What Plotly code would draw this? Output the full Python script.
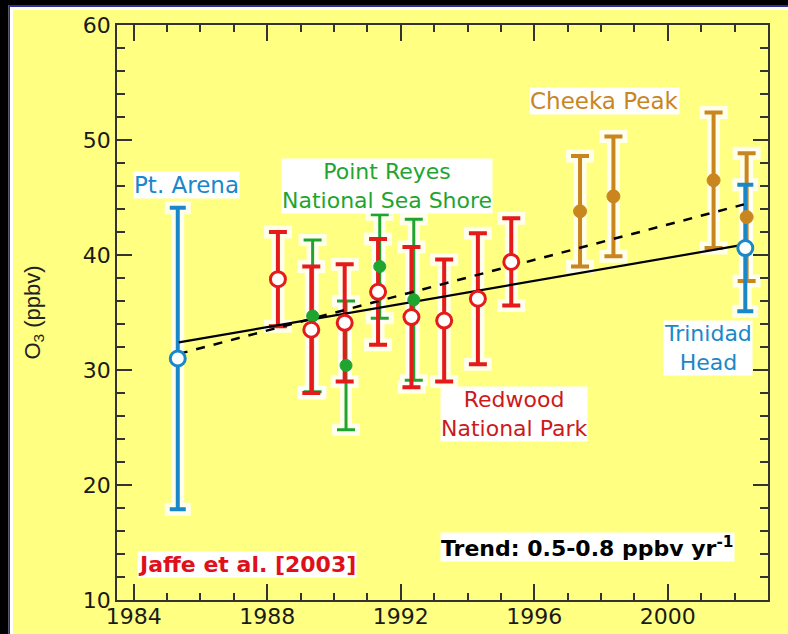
import plotly.graph_objects as go

# ---------------- data ----------------
pt_arena_year = [1985.32]
pt_arena_mean = [31.0]
pt_arena_err = [13.1]

trinidad_year = [2002.32]
trinidad_mean = [40.6]
trinidad_err = [5.5]

redwood_year = [1988.32, 1989.32, 1990.32, 1991.32, 1992.32, 1993.30, 1994.31, 1995.31]
redwood_mean = [37.9, 33.5, 34.1, 36.8, 34.6, 34.3, 36.2, 39.4]
redwood_err = [4.1, 5.5, 5.1, 4.6, 6.1, 5.3, 5.7, 3.8]

reyes_year = [1989.36, 1990.36, 1991.37, 1992.39]
reyes_mean = [34.7, 30.4, 39.0, 36.1]
reyes_err = [6.6, 5.6, 4.5, 7.0]

cheeka_year = [1997.37, 1998.37, 2001.37, 2002.36]
cheeka_mean = [43.8, 45.1, 46.5, 43.3]
cheeka_err = [4.8, 5.2, 5.9, 5.55]

trend_year = [1985.35, 2002.28]
trend_solid = [32.4, 40.9]
trend_dashed = [31.4, 44.4]

x_ticks = [1984, 1988, 1992, 1996, 2000]
y_ticks = [10, 20, 30, 40, 50, 60]

# ---------------- styles ----------------
YELLOW = "#FFFF82"
BLUE = "#1A88C8"
GREEN = "#1FA52F"
RED = "#E51A1A"
ORANGE = "#C9861F"
HALO = "rgba(255,255,255,0.85)"
FONT = "DejaVu Sans"

fig = go.Figure()


def err_trace(x, y, e, color, thick, capw):
    return go.Scatter(x=x, y=y, mode="markers", marker=dict(size=1, opacity=0),
                      error_y=dict(type="data", array=e, visible=True, color=color,
                                   thickness=thick, width=capw),
                      hoverinfo="skip", showlegend=False)


def mark_trace(x, y, color, size, fill, lw):
    return go.Scatter(x=x, y=y, mode="markers",
                      marker=dict(size=size, color=fill, symbol="circle",
                                  line=dict(color=color, width=lw)),
                      showlegend=False)


groups = [
    (reyes_year, reyes_mean, reyes_err, GREEN, 3, 9),
    (redwood_year, redwood_mean, redwood_err, RED, 4, 9),
    (cheeka_year, cheeka_mean, cheeka_err, ORANGE, 4, 9),
    (pt_arena_year, pt_arena_mean, pt_arena_err, BLUE, 4, 8),
    (trinidad_year, trinidad_mean, trinidad_err, BLUE, 4, 8),
]

# white halos
for x, y, e, c, t, w in groups:
    fig.add_trace(err_trace(x, y, e, HALO, t + 9, w + 5))
for x, y, e, c, t, w in groups:
    fig.add_trace(err_trace(x, y, e, c, t, w))

# trend lines
fig.add_trace(go.Scatter(x=trend_year, y=trend_dashed, mode="lines",
                         line=dict(color="black", width=2.5, dash="dash"),
                         showlegend=False))
fig.add_trace(go.Scatter(x=trend_year, y=trend_solid, mode="lines",
                         line=dict(color="black", width=2.2),
                         showlegend=False))

# markers
fig.add_trace(mark_trace(reyes_year, reyes_mean, GREEN, 12, GREEN, 1))
fig.add_trace(mark_trace(redwood_year, redwood_mean, RED, 15, "white", 3))
fig.add_trace(mark_trace(cheeka_year, cheeka_mean, ORANGE, 13, ORANGE, 1))
fig.add_trace(mark_trace(pt_arena_year, pt_arena_mean, BLUE, 15, "white", 3))
fig.add_trace(mark_trace(trinidad_year, trinidad_mean, BLUE, 15, "white", 3))


# ---------------- annotations ----------------
def label(text, x, y, color, size=22, bold=False):
    fig.add_annotation(x=x, y=y, xref="x", yref="y", text=f"<b>{text}</b>" if bold else text,
                       showarrow=False, xanchor="center", yanchor="middle", align="center",
                       font=dict(family=FONT, size=size, color=color),
                       bgcolor="white", borderpad=0)


label("Pt. Arena", 1985.59, 46.1, BLUE, size=23)
label("Point Reyes<br>National Sea Shore", 1991.6, 46.0, GREEN)
label("Cheeka Peak", 1998.11, 53.4, ORANGE, size=23)
label("Trinidad<br>Head", 2001.2, 31.9, BLUE)
label("Redwood<br>National Park", 1995.4, 26.2, "#CC1A1A")
label("Jaffe et al. [2003]", 1987.4, 13.1, "#E0101A", size=22, bold=True)
label("Trend: 0.5-0.8 ppbv yr<sup>-1</sup>", 1997.6, 14.6, "black", size=22, bold=True)

fig.add_annotation(xref="paper", yref="paper", x=-0.129, y=0.5, text="O<sub>3</sub> (ppbv)",
                   showarrow=False, textangle=-90, xanchor="center", yanchor="middle",
                   font=dict(family="Liberation Sans", size=22, color="#222222"))

# ---------------- frame (slide border) ----------------
L, R, T, B = 117, 20, 25, 34
W, H = 788, 634
pw, ph = W - L - R, H - T - B


def px(x):
    return (x - L) / pw


def py(y):
    return (H - B - y) / ph


fig.add_shape(type="rect", xref="paper", yref="paper", x0=px(-5), x1=px(8.5), y0=py(-5), y1=py(645),
              fillcolor="black", line_width=0, layer="below")
fig.add_shape(type="rect", xref="paper", yref="paper", x0=px(-5), x1=px(800), y0=py(-5), y1=py(5),
              fillcolor="black", line_width=0, layer="below")
fig.add_shape(type="path", xref="paper", yref="paper",
              path=f"M {px(9.5)} {py(645)} L {px(9.5)} {py(6)} L {px(800)} {py(6)}",
              line=dict(color="#2E2E9E", width=2), layer="below")
fig.add_shape(type="path", xref="paper", yref="paper",
              path=f"M {px(11.5)} {py(645)} L {px(11.5)} {py(8.5)} L {px(800)} {py(8.5)}",
              line=dict(color="white", width=3), layer="below")

axis_common = dict(showgrid=False, zeroline=False, showline=True, linecolor="#333333",
                   linewidth=1.5, mirror="ticks", ticks="inside", tickcolor="#333333",
                   tickwidth=1.5, automargin=False,
                   tickfont=dict(family=FONT, size=22, color="#1A1A1A"))

fig.update_xaxes(range=[1983.5, 2003], tickmode="array", tickvals=x_ticks, ticklen=16,
                 ticklabelstandoff=-4,
                 minor=dict(tickmode="linear", tick0=1984, dtick=1, ticks="inside",
                            ticklen=7, tickwidth=1.5, tickcolor="#333333"),
                 **axis_common)
fig.update_yaxes(range=[10, 60], tickmode="array", tickvals=y_ticks, ticklen=15,
                 minor=dict(tickmode="linear", tick0=10, dtick=2, ticks="inside",
                            ticklen=8, tickwidth=1.5, tickcolor="#333333"),
                 **axis_common)

fig.update_layout(width=W, height=H, margin=dict(l=L, r=R, t=T, b=B, pad=0, autoexpand=False),
                  paper_bgcolor=YELLOW, plot_bgcolor="rgba(0,0,0,0)", showlegend=False)

fig.write_html("out.html")
